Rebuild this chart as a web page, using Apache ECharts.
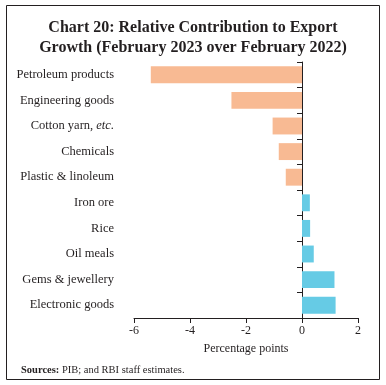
<!DOCTYPE html>
<html>
<head>
<meta charset="utf-8">
<script src="https://cdn.jsdelivr.net/npm/echarts@6/dist/echarts.min.js"></script>
<style>
html,body{margin:0;padding:0;background:#fff;}
#c{width:386px;height:385px;}
</style>
</head>
<body>
<div id="c"></div>
<script>
var categories = ["Petroleum products","Engineering goods","Cotton yarn, etc.","Chemicals","Plastic & linoleum","Iron ore","Rice","Oil meals","Gems & jewellery","Electronic goods"];
var values = [-5.40,-2.52,-1.05,-0.83,-0.58,0.28,0.29,0.42,1.16,1.20];
var xTicks = [-6,-4,-2,0,2];

var FONT = "Liberation Serif";
var chart = echarts.init(document.getElementById('c'), null, {renderer:'canvas'});
chart.setOption({
  animation:false,
  backgroundColor:'#fff',
  title:[{
    text:'Chart 20: Relative Contribution to Export\nGrowth (February 2023 over February 2022)',
    left:'center', top:13,
    textStyle:{fontFamily:FONT,fontWeight:'bold',fontSize:16,color:'#231f20',lineHeight:20}
  },{
    text:'{b|Sources:} {n|PIB; and RBI staff estimates.}',
    left:16, top:360,
    textStyle:{fontFamily:FONT,fontSize:10.5,fontWeight:'normal',color:'#231f20',
      rich:{b:{fontFamily:FONT,fontSize:10.5,fontWeight:'bold',color:'#231f20'},
            n:{fontFamily:FONT,fontSize:10.5,fontWeight:'normal',color:'#231f20'}}}
  }],
  graphic:[{type:'rect',shape:{x:6.5,y:5.5,width:373,height:374},style:{fill:'none',stroke:'#231f20',lineWidth:1}}],
  grid:{left:134,right:28,top:62,bottom:67},
  xAxis:{
    type:'value',min:xTicks[0],max:xTicks[xTicks.length-1],interval:2,
    axisLine:{show:true,lineStyle:{color:'#231f20',width:1}},
    axisTick:{show:true,length:5,lineStyle:{color:'#231f20'}},
    axisLabel:{fontFamily:FONT,fontSize:12,color:'#231f20',margin:7},
    splitLine:{show:false},
    name:'Percentage points',nameLocation:'middle',nameGap:25,
    nameTextStyle:{fontFamily:FONT,fontSize:12,color:'#231f20'}
  },
  yAxis:[{
    type:'category',data:categories,inverse:true,
    axisLine:{show:true,onZero:true,lineStyle:{color:'#231f20',width:1}},
    axisTick:{show:true,length:5,lineStyle:{color:'#231f20'}},
    axisLabel:{show:false}
  },{
    type:'category',data:categories,inverse:true,position:'left',
    axisLine:{show:false,onZero:false},
    axisTick:{show:false},
    axisLabel:{fontFamily:FONT,fontSize:12.5,color:'#231f20',margin:20,
      formatter:function(v){
        var k=v.indexOf('etc.');
        if(k>=0) return '{n|'+v.slice(0,k)+'}{i|etc.}';
        return '{n|'+v+'}';
      },
      rich:{n:{fontFamily:FONT,fontSize:12.5,color:'#231f20'},
            i:{fontFamily:FONT,fontSize:12.5,fontStyle:'italic',color:'#231f20'}}}
  }],
  series:[{
    type:'bar',yAxisIndex:0,data:values,barCategoryGap:'34%',
    itemStyle:{color:function(p){return p.value<0?'#F8BA93':'#66CBE5';}}
  }]
});
</script>
</body>
</html>
